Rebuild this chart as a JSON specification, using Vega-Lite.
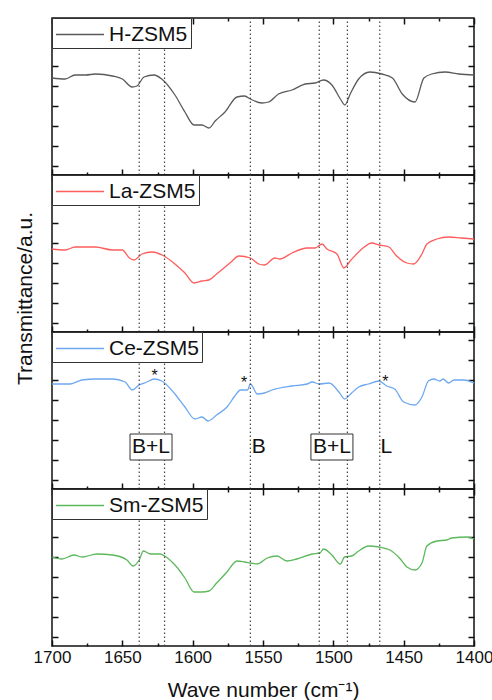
{
  "$schema": "https://vega.github.io/schema/vega-lite/v6.json",
  "padding": {"left": 13, "top": 16, "right": 2, "bottom": 0},
  "bounds": "flush",
  "spacing": 0,
  "datasets": {
    "spectra": [
      {"s":"H-ZSM5","wn":1700,"t":97},{"s":"H-ZSM5","wn":1690.7,"t":96},{"s":"H-ZSM5","wn":1683.6,"t":100},{"s":"H-ZSM5","wn":1676,"t":100},{"s":"H-ZSM5","wn":1669,"t":101},{"s":"H-ZSM5","wn":1657,"t":99},{"s":"H-ZSM5","wn":1650,"t":96},{"s":"H-ZSM5","wn":1643,"t":88},{"s":"H-ZSM5","wn":1639.6,"t":89},{"s":"H-ZSM5","wn":1634.6,"t":98},{"s":"H-ZSM5","wn":1627.5,"t":100},{"s":"H-ZSM5","wn":1622,"t":96},{"s":"H-ZSM5","wn":1612.6,"t":80},{"s":"H-ZSM5","wn":1605.5,"t":63},{"s":"H-ZSM5","wn":1599,"t":50},{"s":"H-ZSM5","wn":1593.4,"t":50},{"s":"H-ZSM5","wn":1588.4,"t":47},{"s":"H-ZSM5","wn":1584,"t":54},{"s":"H-ZSM5","wn":1577,"t":63},{"s":"H-ZSM5","wn":1568.5,"t":78},{"s":"H-ZSM5","wn":1563,"t":79},{"s":"H-ZSM5","wn":1559,"t":76},{"s":"H-ZSM5","wn":1550.7,"t":72},{"s":"H-ZSM5","wn":1546,"t":73},{"s":"H-ZSM5","wn":1539,"t":81},{"s":"H-ZSM5","wn":1529.4,"t":85},{"s":"H-ZSM5","wn":1520,"t":91},{"s":"H-ZSM5","wn":1513,"t":92},{"s":"H-ZSM5","wn":1507,"t":95},{"s":"H-ZSM5","wn":1501,"t":90},{"s":"H-ZSM5","wn":1495,"t":76},{"s":"H-ZSM5","wn":1491.8,"t":70},{"s":"H-ZSM5","wn":1488,"t":81},{"s":"H-ZSM5","wn":1482,"t":96},{"s":"H-ZSM5","wn":1474,"t":103},{"s":"H-ZSM5","wn":1465.5,"t":101},{"s":"H-ZSM5","wn":1458,"t":97},{"s":"H-ZSM5","wn":1451,"t":81},{"s":"H-ZSM5","wn":1442,"t":73},{"s":"H-ZSM5","wn":1435.6,"t":97},{"s":"H-ZSM5","wn":1430,"t":101},{"s":"H-ZSM5","wn":1420.6,"t":103},{"s":"H-ZSM5","wn":1410.7,"t":101},{"s":"H-ZSM5","wn":1400,"t":100},
      {"s":"La-ZSM5","wn":1700,"t":83},{"s":"La-ZSM5","wn":1690.7,"t":82},{"s":"La-ZSM5","wn":1683.6,"t":85},{"s":"La-ZSM5","wn":1669,"t":85},{"s":"La-ZSM5","wn":1657,"t":82},{"s":"La-ZSM5","wn":1650,"t":82},{"s":"La-ZSM5","wn":1645,"t":74},{"s":"La-ZSM5","wn":1641.7,"t":72},{"s":"La-ZSM5","wn":1636,"t":78},{"s":"La-ZSM5","wn":1629,"t":80},{"s":"La-ZSM5","wn":1620.4,"t":76},{"s":"La-ZSM5","wn":1612.6,"t":68},{"s":"La-ZSM5","wn":1605.5,"t":59},{"s":"La-ZSM5","wn":1599,"t":49},{"s":"La-ZSM5","wn":1593.4,"t":51},{"s":"La-ZSM5","wn":1588.4,"t":52},{"s":"La-ZSM5","wn":1583,"t":58},{"s":"La-ZSM5","wn":1573.5,"t":69},{"s":"La-ZSM5","wn":1567,"t":76},{"s":"La-ZSM5","wn":1559,"t":74},{"s":"La-ZSM5","wn":1553,"t":68},{"s":"La-ZSM5","wn":1549,"t":67},{"s":"La-ZSM5","wn":1541.5,"t":74},{"s":"La-ZSM5","wn":1538,"t":73},{"s":"La-ZSM5","wn":1529.4,"t":79},{"s":"La-ZSM5","wn":1518.7,"t":84},{"s":"La-ZSM5","wn":1513,"t":84},{"s":"La-ZSM5","wn":1508,"t":88},{"s":"La-ZSM5","wn":1504.5,"t":83},{"s":"La-ZSM5","wn":1497.4,"t":78},{"s":"La-ZSM5","wn":1492.5,"t":64},{"s":"La-ZSM5","wn":1488,"t":71},{"s":"La-ZSM5","wn":1479.7,"t":83},{"s":"La-ZSM5","wn":1472.6,"t":89},{"s":"La-ZSM5","wn":1467.6,"t":87},{"s":"La-ZSM5","wn":1460.5,"t":85},{"s":"La-ZSM5","wn":1455,"t":76},{"s":"La-ZSM5","wn":1447.7,"t":69},{"s":"La-ZSM5","wn":1442.8,"t":68},{"s":"La-ZSM5","wn":1437,"t":78},{"s":"La-ZSM5","wn":1433.5,"t":88},{"s":"La-ZSM5","wn":1426.4,"t":93},{"s":"La-ZSM5","wn":1418,"t":95},{"s":"La-ZSM5","wn":1408.8,"t":94},{"s":"La-ZSM5","wn":1400,"t":93},
      {"s":"Ce-ZSM5","wn":1700,"t":105},{"s":"Ce-ZSM5","wn":1687,"t":105},{"s":"Ce-ZSM5","wn":1678.7,"t":109},{"s":"Ce-ZSM5","wn":1669,"t":110},{"s":"Ce-ZSM5","wn":1657,"t":110},{"s":"Ce-ZSM5","wn":1648,"t":107},{"s":"Ce-ZSM5","wn":1643,"t":99},{"s":"Ce-ZSM5","wn":1638,"t":104},{"s":"Ce-ZSM5","wn":1632.5,"t":107},{"s":"Ce-ZSM5","wn":1627.5,"t":110},{"s":"Ce-ZSM5","wn":1622,"t":108},{"s":"Ce-ZSM5","wn":1620,"t":106},{"s":"Ce-ZSM5","wn":1612.6,"t":95},{"s":"Ce-ZSM5","wn":1605.5,"t":82},{"s":"Ce-ZSM5","wn":1598.4,"t":70},{"s":"Ce-ZSM5","wn":1593.4,"t":72},{"s":"Ce-ZSM5","wn":1589,"t":68},{"s":"Ce-ZSM5","wn":1583,"t":74},{"s":"Ce-ZSM5","wn":1575.6,"t":82},{"s":"Ce-ZSM5","wn":1570,"t":93},{"s":"Ce-ZSM5","wn":1566,"t":99},{"s":"Ce-ZSM5","wn":1561,"t":99},{"s":"Ce-ZSM5","wn":1559,"t":105},{"s":"Ce-ZSM5","wn":1554,"t":95},{"s":"Ce-ZSM5","wn":1549,"t":96},{"s":"Ce-ZSM5","wn":1543.6,"t":99},{"s":"Ce-ZSM5","wn":1529.4,"t":103},{"s":"Ce-ZSM5","wn":1518.7,"t":105},{"s":"Ce-ZSM5","wn":1515,"t":107},{"s":"Ce-ZSM5","wn":1510,"t":105},{"s":"Ce-ZSM5","wn":1503,"t":106},{"s":"Ce-ZSM5","wn":1496,"t":97},{"s":"Ce-ZSM5","wn":1492,"t":90},{"s":"Ce-ZSM5","wn":1487,"t":96},{"s":"Ce-ZSM5","wn":1482,"t":102},{"s":"Ce-ZSM5","wn":1475,"t":105},{"s":"Ce-ZSM5","wn":1467.6,"t":108},{"s":"Ce-ZSM5","wn":1462,"t":103},{"s":"Ce-ZSM5","wn":1456.4,"t":100},{"s":"Ce-ZSM5","wn":1450,"t":87},{"s":"Ce-ZSM5","wn":1442,"t":84},{"s":"Ce-ZSM5","wn":1437,"t":92},{"s":"Ce-ZSM5","wn":1432.4,"t":108},{"s":"Ce-ZSM5","wn":1428.5,"t":110},{"s":"Ce-ZSM5","wn":1424.3,"t":108},{"s":"Ce-ZSM5","wn":1422,"t":110},{"s":"Ce-ZSM5","wn":1418,"t":106},{"s":"Ce-ZSM5","wn":1414.3,"t":109},{"s":"Ce-ZSM5","wn":1407,"t":109},{"s":"Ce-ZSM5","wn":1400,"t":106},
      {"s":"Sm-ZSM5","wn":1700,"t":89},{"s":"Sm-ZSM5","wn":1693,"t":87},{"s":"Sm-ZSM5","wn":1684.4,"t":91},{"s":"Sm-ZSM5","wn":1678.7,"t":89},{"s":"Sm-ZSM5","wn":1668,"t":92},{"s":"Sm-ZSM5","wn":1657,"t":91},{"s":"Sm-ZSM5","wn":1646.7,"t":86},{"s":"Sm-ZSM5","wn":1642.4,"t":80},{"s":"Sm-ZSM5","wn":1638,"t":86},{"s":"Sm-ZSM5","wn":1635,"t":95},{"s":"Sm-ZSM5","wn":1630,"t":92},{"s":"Sm-ZSM5","wn":1623,"t":92},{"s":"Sm-ZSM5","wn":1620,"t":90},{"s":"Sm-ZSM5","wn":1612.6,"t":81},{"s":"Sm-ZSM5","wn":1605.5,"t":68},{"s":"Sm-ZSM5","wn":1599,"t":54},{"s":"Sm-ZSM5","wn":1593.4,"t":54},{"s":"Sm-ZSM5","wn":1588.4,"t":55},{"s":"Sm-ZSM5","wn":1583,"t":63},{"s":"Sm-ZSM5","wn":1575.6,"t":74},{"s":"Sm-ZSM5","wn":1568.5,"t":85},{"s":"Sm-ZSM5","wn":1563,"t":84},{"s":"Sm-ZSM5","wn":1559,"t":83},{"s":"Sm-ZSM5","wn":1554,"t":82},{"s":"Sm-ZSM5","wn":1547,"t":88},{"s":"Sm-ZSM5","wn":1540,"t":90},{"s":"Sm-ZSM5","wn":1533,"t":85},{"s":"Sm-ZSM5","wn":1526,"t":87},{"s":"Sm-ZSM5","wn":1515,"t":92},{"s":"Sm-ZSM5","wn":1509.5,"t":93},{"s":"Sm-ZSM5","wn":1507,"t":97},{"s":"Sm-ZSM5","wn":1501,"t":91},{"s":"Sm-ZSM5","wn":1495,"t":82},{"s":"Sm-ZSM5","wn":1492,"t":89},{"s":"Sm-ZSM5","wn":1487,"t":90},{"s":"Sm-ZSM5","wn":1482,"t":95},{"s":"Sm-ZSM5","wn":1475,"t":100},{"s":"Sm-ZSM5","wn":1467.6,"t":99},{"s":"Sm-ZSM5","wn":1459.8,"t":96},{"s":"Sm-ZSM5","wn":1453,"t":88},{"s":"Sm-ZSM5","wn":1447.7,"t":79},{"s":"Sm-ZSM5","wn":1442,"t":76},{"s":"Sm-ZSM5","wn":1437,"t":83},{"s":"Sm-ZSM5","wn":1433.5,"t":100},{"s":"Sm-ZSM5","wn":1426.4,"t":105},{"s":"Sm-ZSM5","wn":1419.3,"t":106},{"s":"Sm-ZSM5","wn":1415.8,"t":108},{"s":"Sm-ZSM5","wn":1405,"t":109},{"s":"Sm-ZSM5","wn":1400,"t":107}
    ],
    "rules": [{"wn":1638},{"wn":1620},{"wn":1559},{"wn":1510},{"wn":1490},{"wn":1467}],
    "ann": [
      {"wn":1629.6,"txt":"B+L","box":1},
      {"wn":1553,"txt":"B","box":0},
      {"wn":1501,"txt":"B+L","box":1},
      {"wn":1462.3,"txt":"L","box":0}
    ],
    "stars": [{"wn":1627,"v":117},{"wn":1563.5,"v":110},{"wn":1463,"v":111}]
  },
  "resolve": {"scale": {"color": "independent"}, "legend": {"color": "independent"}},
  "vconcat": [
    {
      "width": 422, "height": 157,
      "layer": [
        {"data": {"name": "spectra"}, "transform": [{"filter": "datum.s === 'H-ZSM5'"}],
         "mark": {"type": "line", "strokeWidth": 1.3, "interpolate": "monotone"},
         "encoding": {
           "x": {"field": "wn", "type": "quantitative", "scale": {"domain": [1400, 1700], "reverse": true, "nice": false},
                 "axis": {"orient": "bottom", "values": [1400,1425,1450,1475,1500,1525,1550,1575,1600,1625,1650,1675,1700], "labels": false, "title": null, "tickSize": {"condition": {"test": "datum.value % 50 === 0", "value": -6}, "value": -3}}},
           "y": {"field": "t", "type": "quantitative", "scale": {"domain": [0, 157], "nice": false, "zero": false},
                 "axis": {"orient": "left", "values": [9,29,49,69,89,109,129,149], "labels": false, "title": null, "tickSize": -6}},
           "color": {"field": "s", "type": "nominal", "scale": {"domain": ["H-ZSM5"], "range": ["#5a5a5a"]}, "legend": {"title": null}}
         }},
        {"data": {"name": "rules"},
         "mark": {"type": "rule", "strokeDash": [1.5, 2.5], "color": "#444", "strokeWidth": 1.2},
         "encoding": {
           "x": {"field": "wn", "type": "quantitative",
                 "axis": {"orient": "top", "values": [1400,1425,1450,1475,1500,1525,1550,1575,1600,1625,1650,1675,1700], "labels": false, "title": null, "tickSize": {"condition": {"test": "datum.value % 50 === 0", "value": -6}, "value": -3}}},
           "y": {"datum": 0, "type": "quantitative", "axis": {"orient": "right", "values": [9,29,49,69,89,109,129,149], "labels": false, "title": null, "tickSize": -6}},
           "y2": {"datum": 157}
         }}
      ],
      "resolve": {"axis": {"x": "independent", "y": "independent"}}
    },
    {
      "width": 422, "height": 157,
      "layer": [
        {"data": {"name": "spectra"}, "transform": [{"filter": "datum.s === 'La-ZSM5'"}],
         "mark": {"type": "line", "strokeWidth": 1.3, "interpolate": "monotone"},
         "encoding": {
           "x": {"field": "wn", "type": "quantitative", "scale": {"domain": [1400, 1700], "reverse": true, "nice": false},
                 "axis": {"orient": "bottom", "values": [1400,1425,1450,1475,1500,1525,1550,1575,1600,1625,1650,1675,1700], "labels": false, "title": null, "tickSize": {"condition": {"test": "datum.value % 50 === 0", "value": -6}, "value": -3}}},
           "y": {"field": "t", "type": "quantitative", "scale": {"domain": [0, 157], "nice": false, "zero": false},
                 "axis": {"orient": "left", "values": [9,29,49,69,89,109,129,149], "labels": false, "title": "Transmittance/a.u.", "titleFontSize": 21, "titleAngle": 270, "titleAlign": "center", "titleBaseline": "alphabetic", "titleX": -21, "titleY": 123, "tickSize": -6}},
           "color": {"field": "s", "type": "nominal", "scale": {"domain": ["La-ZSM5"], "range": ["#ff5c5c"]}, "legend": {"title": null}}
         }},
        {"data": {"name": "rules"},
         "mark": {"type": "rule", "strokeDash": [1.5, 2.5], "color": "#444", "strokeWidth": 1.2},
         "encoding": {
           "x": {"field": "wn", "type": "quantitative",
                 "axis": {"orient": "top", "values": [1400,1425,1450,1475,1500,1525,1550,1575,1600,1625,1650,1675,1700], "labels": false, "title": null, "tickSize": {"condition": {"test": "datum.value % 50 === 0", "value": -6}, "value": -3}}},
           "y": {"datum": 0, "type": "quantitative", "axis": {"orient": "right", "values": [9,29,49,69,89,109,129,149], "labels": false, "title": null, "tickSize": -6}},
           "y2": {"datum": 157}
         }}
      ],
      "resolve": {"axis": {"x": "independent", "y": "independent"}}
    },
    {
      "width": 422, "height": 157,
      "layer": [
        {"data": {"name": "spectra"}, "transform": [{"filter": "datum.s === 'Ce-ZSM5'"}],
         "mark": {"type": "line", "strokeWidth": 1.3, "interpolate": "monotone"},
         "encoding": {
           "x": {"field": "wn", "type": "quantitative", "scale": {"domain": [1400, 1700], "reverse": true, "nice": false},
                 "axis": {"orient": "bottom", "values": [1400,1425,1450,1475,1500,1525,1550,1575,1600,1625,1650,1675,1700], "labels": false, "title": null, "tickSize": {"condition": {"test": "datum.value % 50 === 0", "value": -6}, "value": -3}}},
           "y": {"field": "t", "type": "quantitative", "scale": {"domain": [0, 157], "nice": false, "zero": false},
                 "axis": {"orient": "left", "values": [9,29,49,69,89,109,129,149], "labels": false, "title": null, "tickSize": -6}},
           "color": {"field": "s", "type": "nominal", "scale": {"domain": ["Ce-ZSM5"], "range": ["#6ea8f0"]}, "legend": {"title": null}}
         }},
        {"data": {"name": "rules"},
         "mark": {"type": "rule", "strokeDash": [1.5, 2.5], "color": "#444", "strokeWidth": 1.2},
         "encoding": {
           "x": {"field": "wn", "type": "quantitative",
                 "axis": {"orient": "top", "values": [1400,1425,1450,1475,1500,1525,1550,1575,1600,1625,1650,1675,1700], "labels": false, "title": null, "tickSize": {"condition": {"test": "datum.value % 50 === 0", "value": -6}, "value": -3}}},
           "y": {"datum": 0, "type": "quantitative", "axis": {"orient": "right", "values": [9,29,49,69,89,109,129,149], "labels": false, "title": null, "tickSize": -6}},
           "y2": {"datum": 157}
         }},
        {"data": {"name": "ann"}, "transform": [{"filter": "datum.box === 1"}],
         "mark": {"type": "rect", "width": 42, "height": 26, "fill": "white", "stroke": "#333", "strokeWidth": 1},
         "encoding": {
           "x": {"field": "wn", "type": "quantitative", "axis": null},
           "y": {"datum": 42, "type": "quantitative", "axis": null}
         }},
        {"data": {"name": "ann"},
         "mark": {"type": "text", "fontSize": 21, "align": "center", "baseline": "middle", "color": "#111"},
         "encoding": {
           "x": {"field": "wn", "type": "quantitative", "axis": null},
           "y": {"datum": 42, "type": "quantitative", "axis": null},
           "text": {"field": "txt"}
         }},
        {"data": {"name": "stars"},
         "mark": {"type": "text", "text": "*", "fontSize": 16, "align": "center", "baseline": "alphabetic", "dy": 9, "color": "#111"},
         "encoding": {
           "x": {"field": "wn", "type": "quantitative", "axis": null},
           "y": {"field": "v", "type": "quantitative", "axis": null}
         }}
      ],
      "resolve": {"axis": {"x": "independent", "y": "independent"}}
    },
    {
      "width": 422, "height": 157,
      "layer": [
        {"data": {"name": "spectra"}, "transform": [{"filter": "datum.s === 'Sm-ZSM5'"}],
         "mark": {"type": "line", "strokeWidth": 1.3, "interpolate": "monotone"},
         "encoding": {
           "x": {"field": "wn", "type": "quantitative", "scale": {"domain": [1400, 1700], "reverse": true, "nice": false},
                 "axis": {"orient": "bottom", "values": [1400,1425,1450,1475,1500,1525,1550,1575,1600,1625,1650,1675,1700], "format": "d", "labelExpr": "datum.value % 50 === 0 ? datum.label : ''", "labelFontSize": 17, "labelPadding": 9, "labelFlush": false, "labelOverlap": false, "title": "Wave number (cm⁻¹)", "titleFontSize": 21, "titlePadding": 11, "tickSize": {"condition": {"test": "datum.value % 50 === 0", "value": -6}, "value": -3}}},
           "y": {"field": "t", "type": "quantitative", "scale": {"domain": [0, 157], "nice": false, "zero": false},
                 "axis": {"orient": "left", "values": [9,29,49,69,89,109,129,149], "labels": false, "title": null, "tickSize": -6}},
           "color": {"field": "s", "type": "nominal", "scale": {"domain": ["Sm-ZSM5"], "range": ["#5cb85c"]}, "legend": {"title": null}}
         }},
        {"data": {"name": "rules"},
         "mark": {"type": "rule", "strokeDash": [1.5, 2.5], "color": "#444", "strokeWidth": 1.2},
         "encoding": {
           "x": {"field": "wn", "type": "quantitative",
                 "axis": {"orient": "top", "values": [1400,1425,1450,1475,1500,1525,1550,1575,1600,1625,1650,1675,1700], "labels": false, "title": null, "tickSize": {"condition": {"test": "datum.value % 50 === 0", "value": -6}, "value": -3}}},
           "y": {"datum": 0, "type": "quantitative", "axis": {"orient": "right", "values": [9,29,49,69,89,109,129,149], "labels": false, "title": null, "tickSize": -6}},
           "y2": {"datum": 157}
         }}
      ],
      "resolve": {"axis": {"x": "independent", "y": "independent"}}
    }
  ],
  "config": {
    "font": "Liberation Sans",
    "view": {"stroke": "#111", "strokeWidth": 1.5},
    "axis": {"domain": false, "grid": false, "tickColor": "#111", "tickWidth": 1.5, "labelColor": "#111", "titleColor": "#111", "titleFontWeight": "normal", "labelFont": "Liberation Sans", "titleFont": "Liberation Sans"},
    "legend": {"orient": "top-left", "offset": 0, "padding": 3, "strokeColor": "#333", "strokeWidth": 1, "fillColor": "white", "cornerRadius": 0, "symbolType": "M-1,0H2.84", "symbolSize": 625, "symbolStrokeWidth": 1.3, "labelFontSize": 21, "labelOffset": 27, "labelColor": "#111", "labelFont": "Liberation Sans"}
  }
}
